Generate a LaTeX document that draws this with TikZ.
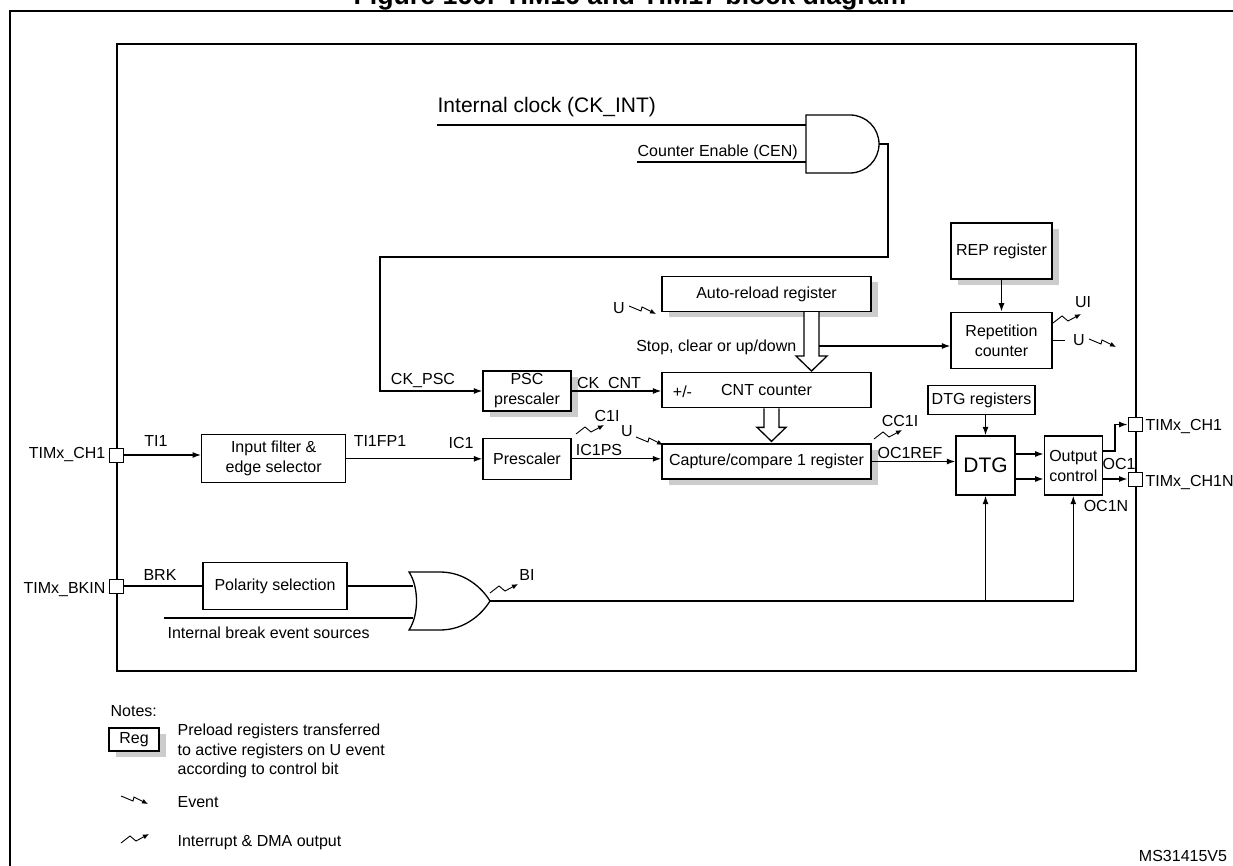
\documentclass[tikz,border=0pt]{standalone}
\usepackage{fontspec}
\setmainfont{Liberation Sans}
\usepackage{tikz}
\usetikzlibrary{arrows.meta,positioning,shadows}

\tikzset{
  blockbox/.style={draw, fill=white, align=center, inner sep=0pt},
  preload/.style={blockbox, drop shadow={shadow xshift=7pt, shadow yshift=-6pt, fill=gray!40, opacity=1}},
  padbox/.style={draw, fill=white, line width=1pt, minimum width=14, minimum height=14, inner sep=0pt},
  hollow/.style={draw, fill=white, line join=miter},
  lbl/.style={anchor=base, inner sep=0pt},
  small tip/.style={-{Latex[length=6pt, width=5pt]}, line width=0.9pt},
  evt/.pic={\draw[small tip] (0,0) -- (12,5) -- (13,1) -- (27,8);},
  irq/.pic={\draw[small tip] (0,0) -- (9,-7) -- (15,-2) -- (28,-9);}
}

\begin{document}
\begin{tikzpicture}[x=1pt, y=-1pt, >={Latex[length=8.5pt, width=6pt]}, line width=1.3pt,
                    font=\fontsize{16}{20}\selectfont]
\useasboundingbox (0,0) rectangle (1233,866);

% frame and title
\draw[line width=2.6pt] (10,11) rectangle (1260,900);
\node[lbl, font=\fontsize{26.7}{30}\selectfont\bfseries] (title) at (630,4.5) {Figure 160. TIM16 and TIM17 block diagram};
\draw[line width=1.4pt] (117,44) rectangle (1136,671);

% clock gating
\node[lbl, anchor=base west, font=\fontsize{21}{24}\selectfont] (clk) at (437,112.5) {Internal clock (CK\_INT)};
\node[lbl, anchor=base west] (cen) at (637,157) {Counter Enable (CEN)};
\coordinate (clkin) at (437,125);
\coordinate (cenin) at (637,162);
\coordinate (and1) at (806,125);
\coordinate (and2) at (806,162);
\coordinate (andout) at (879,144);
\coordinate (fb1) at (888,144);
\coordinate (fb2) at (380,257);
\draw[fill=white] (806,115) -- (850,115) arc[start angle=-90, end angle=90, radius=29] -- (806,173) -- cycle;
\draw (clkin) -- (and1);
\draw (cenin) -- (and2);

% counter part
\node[preload, minimum width=209, minimum height=35] (ccr) at (766.5,461.5) {Capture/compare 1 register};
\node[blockbox, minimum width=209, minimum height=35, above=35pt of ccr] (cnt) {CNT counter};
\node[lbl] (pm) at (682.5,397) {+/-};
\node[preload, minimum width=209, minimum height=35, above=60pt of cnt] (arr) {Auto-reload register};
\node[preload, minimum width=88, minimum height=40] (psc) at (527,391) {PSC\\prescaler};
\node[blockbox, minimum width=88, minimum height=41, below=26pt of psc] (pre) {Prescaler};
\node[blockbox, minimum width=144, minimum height=48, left=136pt of pre] (filter) {Input filter \&\\edge selector};
\node[blockbox, minimum width=144, minimum height=47] (pol) at (275,586) {Polarity selection};

% repetition and output stage
\node[preload, minimum width=101, minimum height=56] (rep) at (1001.5,251) {REP register};
\node[blockbox, minimum width=101, minimum height=56, below=32pt of rep] (repc) {Repetition\\counter};
\node[blockbox, minimum width=59, minimum height=59, font=\fontsize{21}{24}\selectfont] (dtg) at (985.5,465.5) {DTG};
\node[blockbox, minimum width=107, minimum height=29, above=20pt of dtg, xshift=-4pt] (dtgr) {DTG registers};
\node[blockbox, minimum width=58, minimum height=59, right=28pt of dtg] (occ) {Output\\control};

% pins
\node[padbox] (pin1) at (116,455) {};
\node[padbox] (pinbk) at (116,586) {};
\node[padbox] (pinch1) at (1135,424.5) {};
\node[padbox] (pinch1n) at (1135,479) {};
\node[lbl, anchor=base east] (tch1) at (106,458) {TIMx\_CH1};
\node[lbl, anchor=base east] (tbkin) at (106,593) {TIMx\_BKIN};
\node[lbl, anchor=base west] (tch1o) at (1145,430) {TIMx\_CH1};
\node[lbl, anchor=base west] (tch1n) at (1145,486) {TIMx\_CH1N};

% break gate
\coordinate (or1) at (413,586);
\coordinate (or2) at (413,618);
\coordinate (brkin) at (164,618);
\coordinate (orout) at (490,601);
\draw[fill=white] (409,572) -- (440,572) .. controls (465,572) and (482,588) .. (490,601)
  .. controls (482,614) and (465,630) .. (440,630) -- (409,630)
  .. controls (419,615) and (419,587) .. (409,572) -- cycle;

% connectors
\draw[->] (andout) -- (fb1) |- (fb2) |- (psc.west);
\draw[->] (psc.east) -- (psc.east -| cnt.west);
\draw[->] (pin1.east) -- (pin1.east -| filter.west);
\draw[->] (filter.east) -- (filter.east -| pre.west);
\draw[->] (pre.east) -- (pre.east -| ccr.west);
\draw[->] (ccr.east) -- (ccr.east -| dtg.west);
\draw[hollow] ([xshift=37.5pt]arr.south) -- ++(0,44) -- ++(-8,0) -- ++(15.5,15) -- ++(15.5,-15) -- ++(-8,0) -- ++(0,-44);
\draw[hollow] ([xshift=-2.5pt]cnt.south) -- ++(0,19) -- ++(-7,0) -- ++(14.5,14) -- ++(14.5,-14) -- ++(-7,0) -- ++(0,-19);
\coordinate (stop) at (819,346);
\draw[->] (stop) -- (stop -| repc.west);
\draw[->] (rep) -- (repc);
\draw (repc.east) -- ++(12,0);
\draw[->] (dtg.north |- dtgr.south) -- (dtg.north);
\draw[->] ([yshift=11.5pt]dtg.east) -- ([yshift=11.5pt]occ.west);
\draw[->] ([yshift=-13.5pt]dtg.east) -- ([yshift=-13.5pt]occ.west);
\draw[->] ([yshift=14.5pt]occ.east) -- ++(12,0) |- (pinch1.west);
\draw[->] ([yshift=-13.5pt]occ.east) -- (pinch1n.west);
\draw (pinbk.east) -- (pinbk.east -| pol.west);
\draw (pol.east) -- (or1);
\draw (brkin) -- (or2);
\draw[->] (orout) -| (occ.south);
\draw[->] (dtg.south |- orout) -- (dtg.south);

% signal labels
\node[lbl] (lckpsc) at (423,384) {CK\_PSC};
\node[lbl] (lckcnt) at (609,388) {CK\_CNT};
\node[lbl] (lti1) at (156,446) {TI1};
\node[lbl] (lti1fp1) at (380,446) {TI1FP1};
\node[lbl] (lic1) at (461,448) {IC1};
\node[lbl] (lic1ps) at (599,455) {IC1PS};
\node[lbl] (lc1i) at (607,421) {C1I};
\node[lbl] (lu1) at (619,313) {U};
\node[lbl] (lu2) at (627,436) {U};
\node[lbl] (lu3) at (1079,345) {U};
\node[lbl] (lui) at (1083,308) {UI};
\node[lbl] (lcc1i) at (900,426) {CC1I};
\node[lbl] (loc1ref) at (910,458) {OC1REF};
\node[lbl] (loc1) at (1119,469) {OC1};
\node[lbl] (loc1n) at (1106,511) {OC1N};
\node[lbl] (lbrk) at (160,580) {BRK};
\node[lbl] (lbi) at (527,580) {BI};
\node[lbl, anchor=base west] (lbrksrc) at (167,638) {Internal break event sources};
\node[lbl, anchor=base east] (lstop) at (797,351) {Stop, clear or up/down};

% events and interrupts
\pic at (629,306) {evt};
\pic at (636,437) {evt};
\pic at (1089,339) {evt};
\pic at (1053,323) {irq};
\pic at (576,434) {irq};
\pic at (874,439) {irq};
\pic at (490,593) {irq};

% notes
\node[lbl, anchor=base west] (notes) at (110,716) {Notes:};
\node[preload, minimum width=50, minimum height=23] (reg) at (134,739.5) {Reg};
\node[anchor=north west, align=left, inner sep=0pt, font=\fontsize{16}{19.5}\selectfont] (regtxt) at (177,723.5) {Preload registers transferred\\to active registers on U event\\according to control bit};
\pic at (121,796) {evt};
\node[lbl, anchor=base west] (evtxt) at (177,807) {Event};
\pic at (121,843) {irq};
\node[lbl, anchor=base west] (irqtxt) at (177,846) {Interrupt \& DMA output};
\node[lbl] (docid) at (1183,861) {MS31415V5};
\end{tikzpicture}
\end{document}
